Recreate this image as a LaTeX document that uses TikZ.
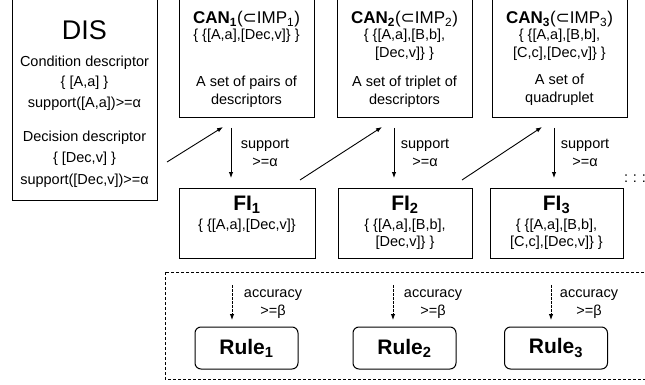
\documentclass[tikz,border=0pt]{standalone}
\usepackage{fontspec}
\setmainfont{Liberation Sans}
\newfontfamily\symfont{DejaVu Sans}
\usetikzlibrary{arrows.meta}

\newcommand{\lsub}[1]{\textsubscript{#1}}
\newcommand{\inimp}{{\symfont ⊂}}

\begin{document}
\begin{tikzpicture}[x=1pt,y=-1pt,
    txt/.style={font=\fontsize{14.5}{17.5}\selectfont,align=center,inner sep=0pt,anchor=base},
    arr/.style={-{Latex[length=6pt,width=4.5pt]},line width=0.9pt},
    darr/.style={arr,dash pattern=on 2.5pt off 1.5pt}]
  \useasboundingbox (0,0) rectangle (645,385);

  % boxes
  \begin{scope}[every node/.style={draw,line width=1pt,inner sep=0pt}]
    \node[minimum width=145,minimum height=215] (dis) at (84.5,92.5) {};
    \node[minimum width=135,minimum height=133] (can1) at (246.5,51.5) {};
    \node[minimum width=135,minimum height=133] (can2) at (404.5,51.5) {};
    \node[minimum width=135,minimum height=133] (can3) at (559.5,51.5) {};
    \node[minimum width=136,minimum height=70] (fi1) at (247,223) {};
    \node[minimum width=134,minimum height=70] (fi2) at (405,223) {};
    \node[minimum width=133,minimum height=70] (fi3) at (556.5,223) {};
  \end{scope}
  \begin{scope}[every node/.style={draw,line width=1pt,rounded corners=6pt,
      minimum width=103,minimum height=42,font=\fontsize{21}{24}\selectfont\bfseries}]
    \node (rule1) at (246.5,348) {Rule\lsub{1}};
    \node (rule2) at (404.5,348) {Rule\lsub{2}};
    \node (rule3) at (556,348) {Rule\lsub{3}};
  \end{scope}
  \draw[line width=0.8pt,dash pattern=on 3pt off 2pt] (165,272) rectangle (660,379);

  % DIS
  \node[txt,font=\fontsize{27}{30}\selectfont] (dis-t) at (84.5,40) {DIS};
  \node[txt] (dis-c) at (84.5,67) {Condition descriptor};
  \node[txt] (dis-cd) at (84.5,87) {\{ [A,a] \}};
  \node[txt] (dis-cs) at (84.5,108) {support([A,a])>=α};
  \node[txt] (dis-d) at (84.5,142) {Decision descriptor};
  \node[txt] (dis-dd) at (84.5,162) {\{ [Dec,v] \}};
  \node[txt] (dis-ds) at (84.5,184) {support([Dec,v])>=α};

  % candidates (multi-line nodes sit on their last baseline)
  \begin{scope}[every node/.style={txt}]
    \node (can1-t) at (246.5,24) {\fontsize{17}{20}\selectfont\textbf{CAN\lsub{1}}(\inimp IMP\lsub{1})};
    \node (can1-s) at (246.5,40) {\{ \{[A,a],[Dec,v]\} \}};
    \node (can1-d) at (246.5,104.5) {A set of pairs of\\descriptors};
    \node (can2-t) at (404.5,24) {\fontsize{17}{20}\selectfont\textbf{CAN\lsub{2}}(\inimp IMP\lsub{2})};
    \node (can2-s) at (404.5,57.5) {\{ \{[A,a],[B,b],\\{}[Dec,v]\} \}};
    \node (can2-d) at (404.5,104.5) {A set of triplet of\\descriptors};
    \node (can3-t) at (559.5,24) {\fontsize{17}{20}\selectfont\textbf{CAN\lsub{3}}(\inimp IMP\lsub{3})};
    \node (can3-s) at (559.5,57.5) {\{ \{[A,a],[B,b],\\{}[C,c],[Dec,v]\} \}};
    \node (can3-d) at (559.5,102.5) {A set of\\quadruplet};
  \end{scope}

  % frequent itemsets
  \begin{scope}[every node/.style={txt}]
    \node (fi1-t) at (247,210) {\fontsize{21}{24}\selectfont\textbf{FI\lsub{1}}};
    \node (fi1-s) at (247,229) {\{ \{[A,a],[Dec,v]\}};
    \node (fi2-t) at (405,210) {\fontsize{21}{24}\selectfont\textbf{FI\lsub{2}}};
    \node (fi2-s) at (405,246.5) {\{ \{[A,a],[B,b],\\{}[Dec,v]\} \}};
    \node (fi3-t) at (556.5,210) {\fontsize{21}{24}\selectfont\textbf{FI\lsub{3}}};
    \node (fi3-s) at (556.5,246.5) {\{ \{[A,a],[B,b],\\{}[C,c],[Dec,v]\} \}};
  \end{scope}
  \node[txt] (more) at (635,182) {:\,\,:\,\,:};

  % arrow ends
  \coordinate (s1a) at (231,128);  \coordinate (s1b) at (231,178);
  \coordinate (s2a) at (394,128);  \coordinate (s2b) at (394,178);
  \coordinate (s3a) at (554,128);  \coordinate (s3b) at (554,178);
  \coordinate (g1a) at (167,162);  \coordinate (g1b) at (223,127);
  \coordinate (g2a) at (300,180);  \coordinate (g2b) at (382,127);
  \coordinate (g3a) at (462,180);  \coordinate (g3b) at (542,127);
  \coordinate (a1a) at (232,285);  \coordinate (a1b) at (232,320);
  \coordinate (a2a) at (393,285);  \coordinate (a2b) at (393,320);
  \coordinate (a3a) at (551,285);  \coordinate (a3b) at (551,320);

  \draw[arr] (s1a) -- (s1b);
  \draw[arr] (s2a) -- (s2b);
  \draw[arr] (s3a) -- (s3b);
  \draw[arr] (g1a) -- (g1b);
  \draw[arr] (g2a) -- (g2b);
  \draw[arr] (g3a) -- (g3b);
  \draw[darr] (a1a) -- (a1b);
  \draw[darr] (a2a) -- (a2b);
  \draw[darr] (a3a) -- (a3b);

  % labels
  \begin{scope}[every node/.style={txt}]
    \node (sup1) at (265,166.5) {support\\>=α};
    \node (sup2) at (425,166.5) {support\\>=α};
    \node (sup3) at (585,166.5) {support\\>=α};
    \node (acc1) at (273,315) {accuracy\\>=β};
    \node (acc2) at (433,315) {accuracy\\>=β};
    \node (acc3) at (589,315) {accuracy\\>=β};
  \end{scope}
\end{tikzpicture}
\end{document}
